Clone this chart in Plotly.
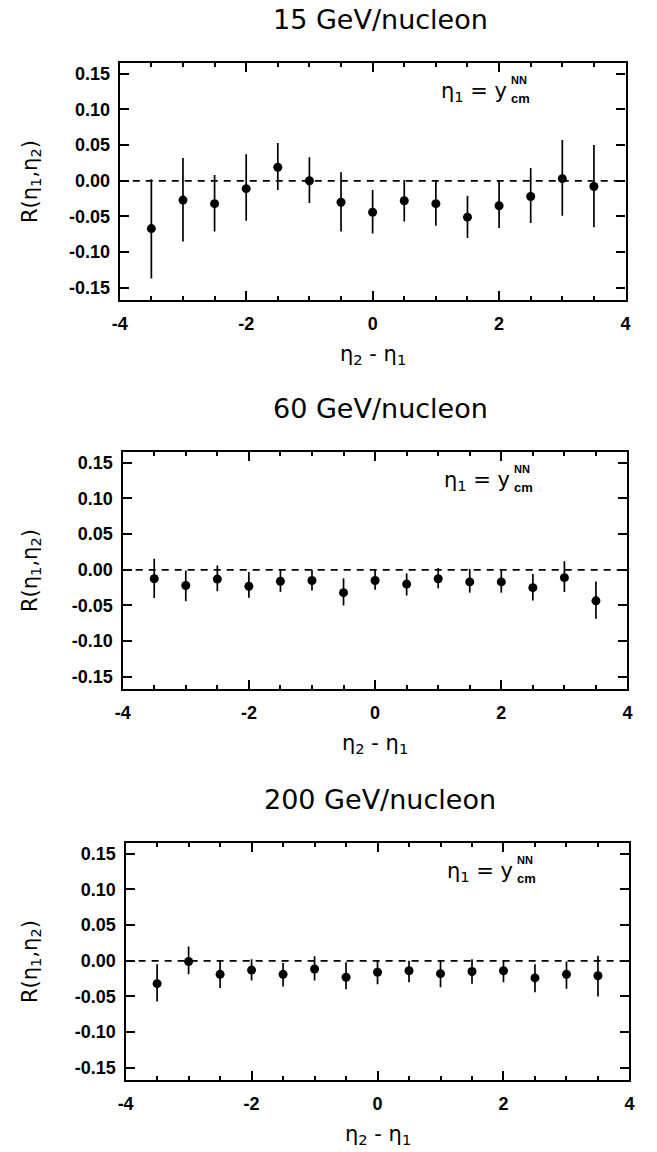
import plotly.graph_objects as go

# Pseudorapidity separation eta2 - eta1 (same bins for all three energies)
eta_diff = [-3.5, -3.0, -2.5, -2.0, -1.5, -1.0, -0.5, 0.0, 0.5, 1.0, 1.5, 2.0, 2.5, 3.0, 3.5]

# 15 GeV/nucleon
r15 = [-0.067, -0.027, -0.032, -0.011, 0.019, 0.000, -0.030, -0.044, -0.028, -0.032, -0.051, -0.035, -0.022, 0.003, -0.008]
r15_up = [0.069, 0.059, 0.040, 0.048, 0.034, 0.033, 0.042, 0.031, 0.029, 0.032, 0.030, 0.035, 0.040, 0.054, 0.058]
r15_dn = [0.070, 0.058, 0.039, 0.045, 0.032, 0.031, 0.041, 0.030, 0.029, 0.031, 0.029, 0.031, 0.037, 0.052, 0.057]

# 60 GeV/nucleon
r60 = [-0.0125, -0.022, -0.013, -0.023, -0.016, -0.015, -0.032, -0.015, -0.020, -0.0125, -0.017, -0.017, -0.025, -0.011, -0.0435]
r60_up = [0.028, 0.021, 0.019, 0.020, 0.016, 0.015, 0.020, 0.016, 0.015, 0.015, 0.018, 0.017, 0.019, 0.023, 0.027]
r60_dn = [0.027, 0.022, 0.017, 0.016, 0.015, 0.014, 0.018, 0.013, 0.016, 0.0135, 0.015, 0.015, 0.018, 0.020, 0.025]

# 200 GeV/nucleon
r200 = [-0.032, -0.001, -0.019, -0.013, -0.019, -0.0115, -0.023, -0.016, -0.014, -0.018, -0.015, -0.014, -0.024, -0.019, -0.021]
r200_up = [0.027, 0.021, 0.019, 0.015, 0.016, 0.018, 0.021, 0.016, 0.014, 0.018, 0.017, 0.015, 0.019, 0.018, 0.028]
r200_dn = [0.025, 0.018, 0.019, 0.0145, 0.017, 0.016, 0.017, 0.017, 0.016, 0.019, 0.017, 0.016, 0.020, 0.020, 0.029]

panel_titles = ["15 GeV/nucleon", "60 GeV/nucleon", "200 GeV/nucleon"]

x_tickvals = [-4, -2, 0, 2, 4]
x_ticktext = ["-4", "-2", "0", "2", "4"]
y_tickvals = [-0.15, -0.10, -0.05, 0.00, 0.05, 0.10, 0.15]
y_ticktext = ["-0.15", "-0.10", "-0.05", "0.00", "0.05", "0.10", "0.15"]

W, H = 657, 1152
# plot frames in pixels: (left, right, top, bottom)
frames = [(114, 630, 63, 300), (117, 632, 452, 689), (120, 634, 843, 1080)]

series = [(r15, r15_up, r15_dn), (r60, r60_up, r60_dn), (r200, r200_up, r200_dn)]

fig = go.Figure()
annotations = []
shapes = []


def px_x(v):
    return v / W


def px_y(v):
    return 1 - v / H


tick_font = dict(family="Liberation Sans", size=18, color="black", weight="bold")
label_font = dict(family="DejaVu Sans", size=21, color="black")

for i, ((vals, up, dn), (l, r, t, b), title) in enumerate(zip(series, frames, panel_titles)):
    n = "" if i == 0 else str(i + 1)
    xa, ya = "x" + n, "y" + n
    fig.add_trace(go.Scatter(
        x=eta_diff, y=vals, xaxis=xa, yaxis=ya, mode="markers",
        marker=dict(color="black", size=9, symbol="circle"),
        error_y=dict(type="data", symmetric=False, array=up, arrayminus=dn,
                     color="black", thickness=1.7, width=0),
        showlegend=False,
    ))
    fig.layout["xaxis" + n] = dict(
        domain=[px_x(l), px_x(r)], anchor=ya, range=[-4, 4],
        tickvals=x_tickvals, ticktext=x_ticktext, tickfont=tick_font,
        ticks="inside", ticklen=9, tickwidth=2, tickcolor="black",
        minor=dict(dtick=0.5, tick0=0, ticks="inside", ticklen=4, tickwidth=1.8, tickcolor="black"),
        showline=True, linecolor="black", linewidth=2.4, mirror="allticks",
        showgrid=False, zeroline=False, ticklabelstandoff=6,
    )
    fig.layout["yaxis" + n] = dict(
        domain=[px_y(b), px_y(t)], anchor=xa, range=[-0.167, 0.165],
        tickvals=y_tickvals, ticktext=y_ticktext, tickfont=tick_font,
        ticks="inside", ticklen=9, tickwidth=2, tickcolor="black",
        showline=True, linecolor="black", linewidth=2.4, mirror="allticks",
        showgrid=False, zeroline=False, ticklabelstandoff=4,
    )
    # dashed reference line at R = 0
    shapes.append(dict(type="line", xref=xa + " domain", yref=ya, x0=0, x1=1, y0=0, y1=0,
                       line=dict(color="black", width=1.7, dash="7px,6px")))
    # panel title
    annotations.append(dict(text=title, xref="paper", yref="paper", x=px_x(380), y=px_y(t - 44),
                            showarrow=False, font=dict(family="DejaVu Sans", size=27, color="black"),
                            xanchor="center", yanchor="middle"))
    # x-axis title
    annotations.append(dict(text="η<sub>2</sub> - η<sub>1</sub>", xref="paper", yref="paper",
                            x=px_x((l + r) / 2), y=px_y(b + 55), showarrow=False,
                            font=label_font, xanchor="center", yanchor="middle"))
    # y-axis title
    annotations.append(dict(text="R(η<sub>1</sub>,η<sub>2</sub>)", xref="paper", yref="paper",
                            x=px_x(23), y=px_y((t + b) / 2), showarrow=False, textangle=-90,
                            font=label_font, xanchor="center", yanchor="middle"))
    # eta1 = y_cm^NN label: superscript above, subscript below the same x position
    ax = l + 397
    ay = t + 29
    annotations.append(dict(text="η<sub>1</sub> = y", xref="paper", yref="paper",
                            x=px_x(ax), y=px_y(ay), showarrow=False, xanchor="right", yanchor="middle",
                            font=dict(family="DejaVu Sans", size=21, color="black")))
    annotations.append(dict(text="NN", xref="paper", yref="paper",
                            x=px_x(ax), y=px_y(ay - 4), showarrow=False, xanchor="left", yanchor="bottom",
                            font=dict(family="Liberation Sans", size=11, color="black", weight="bold")))
    annotations.append(dict(text="cm", xref="paper", yref="paper",
                            x=px_x(ax), y=px_y(ay - 3), showarrow=False, xanchor="left", yanchor="top",
                            font=dict(family="Liberation Sans", size=13, color="black", weight="bold")))

fig.update_layout(
    width=W, height=H, margin=dict(l=0, r=0, t=0, b=0),
    paper_bgcolor="white", plot_bgcolor="white",
    annotations=annotations, shapes=shapes,
)

fig.write_html("out.html")
